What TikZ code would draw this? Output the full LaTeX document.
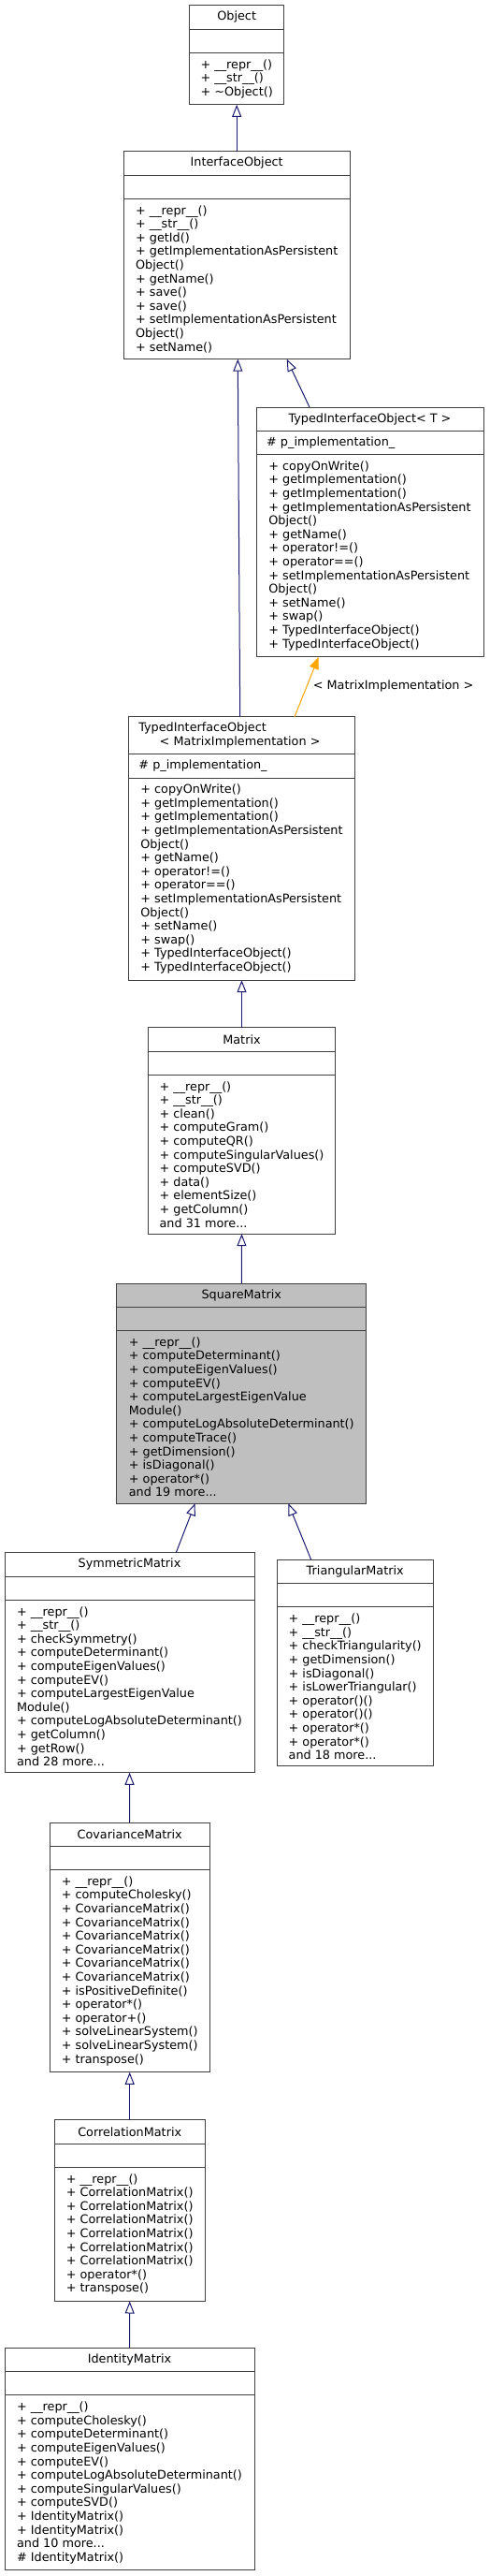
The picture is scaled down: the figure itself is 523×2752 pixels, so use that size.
\documentclass[tikz,border=0pt]{standalone}
\usepackage{fontspec}
\setmainfont{DejaVu Sans}
\usepackage{xcolor}
\usetikzlibrary{positioning,arrows.meta}
\definecolor{edgeblue}{RGB}{25,25,112}
\definecolor{edgeorange}{RGB}{255,165,0}
\definecolor{boxline}{RGB}{64,64,64}
\definecolor{currentgray}{RGB}{191,191,191}

\begin{document}
\begin{tikzpicture}[x=1pt, y=-1pt, node distance=0pt,
	font=\fontsize{12.8}{14.6}\selectfont,
	classname/.style={draw=boxline, line width=1pt, fill=white, inner sep=0pt, outer sep=0pt, minimum height=25.3pt, align=center, anchor=north},
	classattr/.style={draw=boxline, line width=1pt, fill=white, inner xsep=11pt, inner ysep=0pt, outer sep=0pt, minimum height=25.3pt, align=left},
	classops/.style={draw=boxline, line width=1pt, fill=white, inner xsep=11pt, inner ysep=7pt, outer sep=0pt, align=left},
	inherit/.style={draw=edgeblue, line width=1pt, -{Triangle[open, length=13pt, width=10pt]}},
	template/.style={draw=edgeorange, line width=1pt, -{Triangle[length=13pt, width=10pt]}}]
	\useasboundingbox (0,0) rectangle (523,2752);
	
	% Object
	\node[classname, minimum width=101pt] (object) at (253.2,5.7) {Object};
	\node[classattr, text width=79pt, below=of object] (objectattr) {};
	\node[classops, minimum width=101pt, below=of objectattr] (objectops) {+ \_\_repr\_\_()\\+ \_\_str\_\_()\\+ \textasciitilde Object()};
	
	% InterfaceObject
	\node[classname, minimum width=242.3pt] (interface) at (253.2,161.7) {InterfaceObject};
	\node[classattr, text width=220.3pt, below=of interface] (interfaceattr) {};
	\node[classops, minimum width=242.3pt, below=of interfaceattr] (interfaceops) {+ \_\_repr\_\_()\\+ \_\_str\_\_()\\+ getId()\\+ getImplementationAsPersistent\\Object()\\+ getName()\\+ save()\\+ save()\\+ setImplementationAsPersistent\\Object()\\+ setName()};
	
	% TypedInterfaceObject< T >
	\node[classname, minimum width=243pt] (typedt) at (395.5,435) {TypedInterfaceObject< T >};
	\node[classattr, text width=221pt, below=of typedt] (typedtattr) {\# p\_implementation\_};
	\node[classops, minimum width=243pt, below=of typedtattr] (typedtops) {+ copyOnWrite()\\+ getImplementation()\\+ getImplementation()\\+ getImplementationAsPersistent\\Object()\\+ getName()\\+ operator!=()\\+ operator==()\\+ setImplementationAsPersistent\\Object()\\+ setName()\\+ swap()\\+ TypedInterfaceObject()\\+ TypedInterfaceObject()};
	
	% TypedInterfaceObject< MatrixImplementation >
	\node[classname, minimum width=242.4pt, minimum height=40pt, inner xsep=11pt, text width=220.4pt, align=left] (typedmi) at (258.5,765.7) {TypedInterfaceObject\\\hspace*{22.4pt}< MatrixImplementation >};
	\node[classattr, text width=220.4pt, below=of typedmi] (typedmiattr) {\# p\_implementation\_};
	\node[classops, minimum width=242.4pt, below=of typedmiattr] (typedmiops) {+ copyOnWrite()\\+ getImplementation()\\+ getImplementation()\\+ getImplementationAsPersistent\\Object()\\+ getName()\\+ operator!=()\\+ operator==()\\+ setImplementationAsPersistent\\Object()\\+ setName()\\+ swap()\\+ TypedInterfaceObject()\\+ TypedInterfaceObject()};
	
	% Matrix
	\node[classname, minimum width=199.6pt] (matrixcls) at (258.5,1097.7) {Matrix};
	\node[classattr, text width=177.6pt, below=of matrixcls] (matrixattr) {};
	\node[classops, minimum width=199.6pt, below=of matrixattr] (matrixops) {+ \_\_repr\_\_()\\+ \_\_str\_\_()\\+ clean()\\+ computeGram()\\+ computeQR()\\+ computeSingularValues()\\+ computeSVD()\\+ data()\\+ elementSize()\\+ getColumn()\\and 31 more...};
	
	% SquareMatrix
	\node[classname, minimum width=266.7pt, fill=currentgray] (square) at (258.3,1371) {SquareMatrix};
	\node[classattr, text width=244.7pt, fill=currentgray, below=of square] (squareattr) {};
	\node[classops, minimum width=266.7pt, fill=currentgray, below=of squareattr] (squareops) {+ \_\_repr\_\_()\\+ computeDeterminant()\\+ computeEigenValues()\\+ computeEV()\\+ computeLargestEigenValue\\Module()\\+ computeLogAbsoluteDeterminant()\\+ computeTrace()\\+ getDimension()\\+ isDiagonal()\\+ operator*()\\and 19 more...};
	
	% SymmetricMatrix
	\node[classname, minimum width=267pt] (symmetric) at (138.5,1658.7) {SymmetricMatrix};
	\node[classattr, text width=245pt, below=of symmetric] (symmetricattr) {};
	\node[classops, minimum width=267pt, below=of symmetricattr] (symmetricops) {+ \_\_repr\_\_()\\+ \_\_str\_\_()\\+ checkSymmetry()\\+ computeDeterminant()\\+ computeEigenValues()\\+ computeEV()\\+ computeLargestEigenValue\\Module()\\+ computeLogAbsoluteDeterminant()\\+ getColumn()\\+ getRow()\\and 28 more...};
	
	% TriangularMatrix
	\node[classname, minimum width=166.7pt] (triangular) at (379.7,1666.3) {TriangularMatrix};
	\node[classattr, text width=144.7pt, below=of triangular] (triangularattr) {};
	\node[classops, minimum width=166.7pt, below=of triangularattr] (triangularops) {+ \_\_repr\_\_()\\+ \_\_str\_\_()\\+ checkTriangularity()\\+ getDimension()\\+ isDiagonal()\\+ isLowerTriangular()\\+ operator()()\\+ operator()()\\+ operator*()\\+ operator*()\\and 18 more...};
	
	% CovarianceMatrix
	\node[classname, minimum width=170.7pt] (covariance) at (138.7,1947) {CovarianceMatrix};
	\node[classattr, text width=148.7pt, below=of covariance] (covarianceattr) {};
	\node[classops, minimum width=170.7pt, below=of covarianceattr] (covarianceops) {+ \_\_repr\_\_()\\+ computeCholesky()\\+ CovarianceMatrix()\\+ CovarianceMatrix()\\+ CovarianceMatrix()\\+ CovarianceMatrix()\\+ CovarianceMatrix()\\+ CovarianceMatrix()\\+ isPositiveDefinite()\\+ operator*()\\+ operator+()\\+ solveLinearSystem()\\+ solveLinearSystem()\\+ transpose()};
	
	% CorrelationMatrix
	\node[classname, minimum width=161.3pt] (correlation) at (138.7,2264.7) {CorrelationMatrix};
	\node[classattr, text width=139.3pt, below=of correlation] (correlationattr) {};
	\node[classops, minimum width=161.3pt, below=of correlationattr] (correlationops) {+ \_\_repr\_\_()\\+ CorrelationMatrix()\\+ CorrelationMatrix()\\+ CorrelationMatrix()\\+ CorrelationMatrix()\\+ CorrelationMatrix()\\+ CorrelationMatrix()\\+ operator*()\\+ transpose()};
	
	% IdentityMatrix
	\node[classname, minimum width=267pt] (identity) at (138.5,2508.3) {IdentityMatrix};
	\node[classattr, text width=245pt, below=of identity] (identityattr) {};
	\node[classops, minimum width=267pt, below=of identityattr] (identityops) {+ \_\_repr\_\_()\\+ computeCholesky()\\+ computeDeterminant()\\+ computeEigenValues()\\+ computeEV()\\+ computeLogAbsoluteDeterminant()\\+ computeSingularValues()\\+ computeSVD()\\+ IdentityMatrix()\\+ IdentityMatrix()\\and 10 more...\\\# IdentityMatrix()};
	
	% inheritance
	\draw[inherit] (interface.north) -- (objectops.south);
	\draw[inherit] ([xshift=-1.8pt]typedmi.north) -- ([xshift=1.1pt]interfaceops.south);
	\draw[inherit] ([xshift=-64.5pt]typedt.north) -- ([xshift=53.5pt]interfaceops.south);
	\draw[template] ([xshift=56.5pt]typedmi.north) -- node[pos=0.52, anchor=west, inner sep=0pt, xshift=6pt] (bindlabel) {< MatrixImplementation >} ([xshift=-54.8pt]typedtops.south);
	\draw[inherit] (matrixcls.north) -- (typedmiops.south);
	\draw[inherit] (square.north) -- (matrixops.south);
	\draw[inherit] ([xshift=49.8pt]symmetric.north) -- ([xshift=-49.6pt]squareops.south);
	\draw[inherit] ([xshift=-47pt]triangular.north) -- ([xshift=50pt]squareops.south);
	\draw[inherit] (covariance.north) -- (symmetricops.south);
	\draw[inherit] (correlation.north) -- (covarianceops.south);
	\draw[inherit] (identity.north) -- (correlationops.south);
\end{tikzpicture}
\end{document}
